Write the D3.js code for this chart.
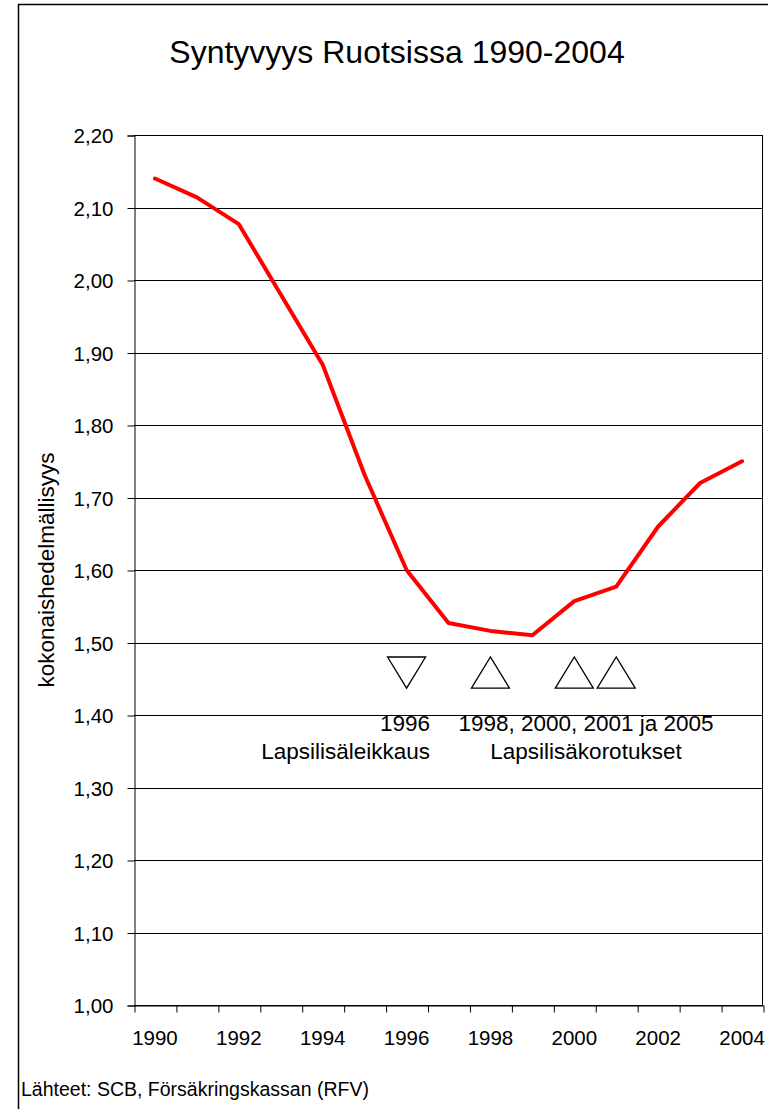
<!DOCTYPE html>
<html>
<head>
<meta charset="utf-8">
<script src="https://cdn.jsdelivr.net/npm/d3@7"></script>
<style>
  body { margin: 0; background: #fff; }
  svg text { font-family: "Liberation Sans", Arial, sans-serif; fill: #000; }
</style>
</head>
<body>
<svg id="chart" width="768" height="1109"></svg>
<script>
// data
const years = [1990, 1991, 1992, 1993, 1994, 1995, 1996, 1997, 1998, 1999, 2000, 2001, 2002, 2003, 2004];
const tfr = [2.14, 2.114, 2.077, 1.98, 1.883, 1.731, 1.60, 1.527, 1.516, 1.51, 1.557, 1.577, 1.66, 1.72, 1.75];
const yTicks = [1.0, 1.1, 1.2, 1.3, 1.4, 1.5, 1.6, 1.7, 1.8, 1.9, 2.0, 2.1, 2.2];
const xLabels = [1990, 1992, 1994, 1996, 1998, 2000, 2002, 2004];
const cutYears = [1996];
const raiseYears = [1998, 2000, 2001];

const margin = {"left": 134, "right": 5, "top": 135, "bottom": 104};
const width = 768, height = 1109;

const svg = d3.select("#chart");

// outer frame (right and bottom edges run off the page)
svg.append("rect")
  .attr("x", 18.5).attr("y", 4.5)
  .attr("width", 800).attr("height", 1200)
  .attr("fill", "none").attr("stroke", "#000").attr("stroke-width", 1.5);

const x = d3.scaleBand()
  .domain(years)
  .range([margin.left, width - margin.right]);
const cx = d => x(d) + x.bandwidth() / 2;

// linear twin of the band scale, for the boundary ticks
const xl = d3.scaleLinear()
  .domain([years[0] - 0.5, years[years.length - 1] + 0.5])
  .range([margin.left, width - margin.right]);

const y = d3.scaleLinear()
  .domain([1.0, 2.2])
  .range([height - margin.bottom, margin.top]);

const comma = d3.formatLocale({decimal: ",", thousands: " ", grouping: [3], currency: ["", ""]}).format(".2f");

// gridlines
svg.append("g")
  .selectAll("line")
  .data(yTicks)
  .enter()
  .append("line")
    .attr("x1", margin.left).attr("x2", width - margin.right)
    .attr("y1", d => Math.round(y(d)) + 0.5).attr("y2", d => Math.round(y(d)) + 0.5)
    .attr("stroke", "#000").attr("stroke-width", 1);

// right edge of plot
svg.append("line")
  .attr("x1", width - margin.right - 0.5).attr("x2", width - margin.right - 0.5)
  .attr("y1", y(2.2)).attr("y2", y(1.0))
  .attr("stroke", "#000");

// axes
const yAxis = d3.axisLeft(y).tickValues(yTicks).tickFormat(comma).tickSize(7).tickPadding(14);
svg.append("g")
  .attr("transform", `translate(${margin.left + 0.5}, 0.5)`)
  .call(yAxis)
  .call(g => g.selectAll("text").attr("font-size", 20.5).attr("dy", "0.36em"))
  .call(g => g.selectAll("line, path").attr("stroke", "#000"));

const tickYears = d3.range(years.length + 1).map(i => years[0] - 0.5 + i);
svg.append("g")
  .attr("transform", `translate(0.5, ${y(1.0) + 0.5})`)
  .call(d3.axisBottom(xl).tickValues(tickYears).tickFormat("").tickSize(7).tickSizeOuter(0))
  .call(g => g.selectAll("line, path").attr("stroke", "#000"));

svg.append("g")
  .attr("transform", `translate(0, ${y(1.0)})`)
  .call(d3.axisBottom(x).tickValues(xLabels).tickFormat(d => d).tickSize(0).tickPadding(25))
  .call(g => g.select(".domain").remove())
  .call(g => g.selectAll("text").attr("font-size", 20.5));

// line
const line = d3.line()
  .x((d, i) => cx(years[i]))
  .y(d => y(d));

svg.append("path")
  .datum(tfr)
  .attr("d", line)
  .attr("fill", "none")
  .attr("stroke", "#ff0000")
  .attr("stroke-width", 4)
  .attr("stroke-linejoin", "round")
  .attr("stroke-linecap", "round");

// markers
const triTop = y(1.48), triBot = y(1.437), half = 19;
svg.append("g")
  .selectAll("path")
  .data(cutYears)
  .enter()
  .append("path")
    .attr("d", d => `M${cx(d) - half},${triTop}L${cx(d) + half},${triTop}L${cx(d)},${triBot}Z`)
    .attr("fill", "none").attr("stroke", "#000").attr("stroke-width", 1.3);

svg.append("g")
  .selectAll("path")
  .data(raiseYears)
  .enter()
  .append("path")
    .attr("d", d => `M${cx(d) - half},${triBot}L${cx(d) + half},${triBot}L${cx(d)},${triTop}Z`)
    .attr("fill", "none").attr("stroke", "#000").attr("stroke-width", 1.3);

// annotation texts
svg.append("text").attr("x", 430).attr("y", 731).attr("text-anchor", "end").attr("font-size", 22.5).text("1996");
svg.append("text").attr("x", 430).attr("y", 759).attr("text-anchor", "end").attr("font-size", 22.5).text("Lapsilisäleikkaus");
svg.append("text").attr("x", 586).attr("y", 731).attr("text-anchor", "middle").attr("font-size", 22.5).text("1998, 2000, 2001 ja 2005");
svg.append("text").attr("x", 586).attr("y", 759).attr("text-anchor", "middle").attr("font-size", 22.5).text("Lapsilisäkorotukset");

// title
svg.append("text")
  .attr("x", 397).attr("y", 63)
  .attr("text-anchor", "middle")
  .attr("font-size", 32)
  .text("Syntyvyys Ruotsissa 1990-2004");

// y title
svg.append("text")
  .attr("transform", `translate(54, ${(y(1.0) + y(2.2)) / 2}) rotate(-90)`)
  .attr("text-anchor", "middle")
  .attr("font-size", 22.5)
  .text("kokonaishedelmällisyys");

// source
svg.append("text")
  .attr("x", 21).attr("y", 1096)
  .attr("font-size", 19.5)
  .text("Lähteet: SCB, Försäkringskassan (RFV)");
</script>
</body>
</html>
